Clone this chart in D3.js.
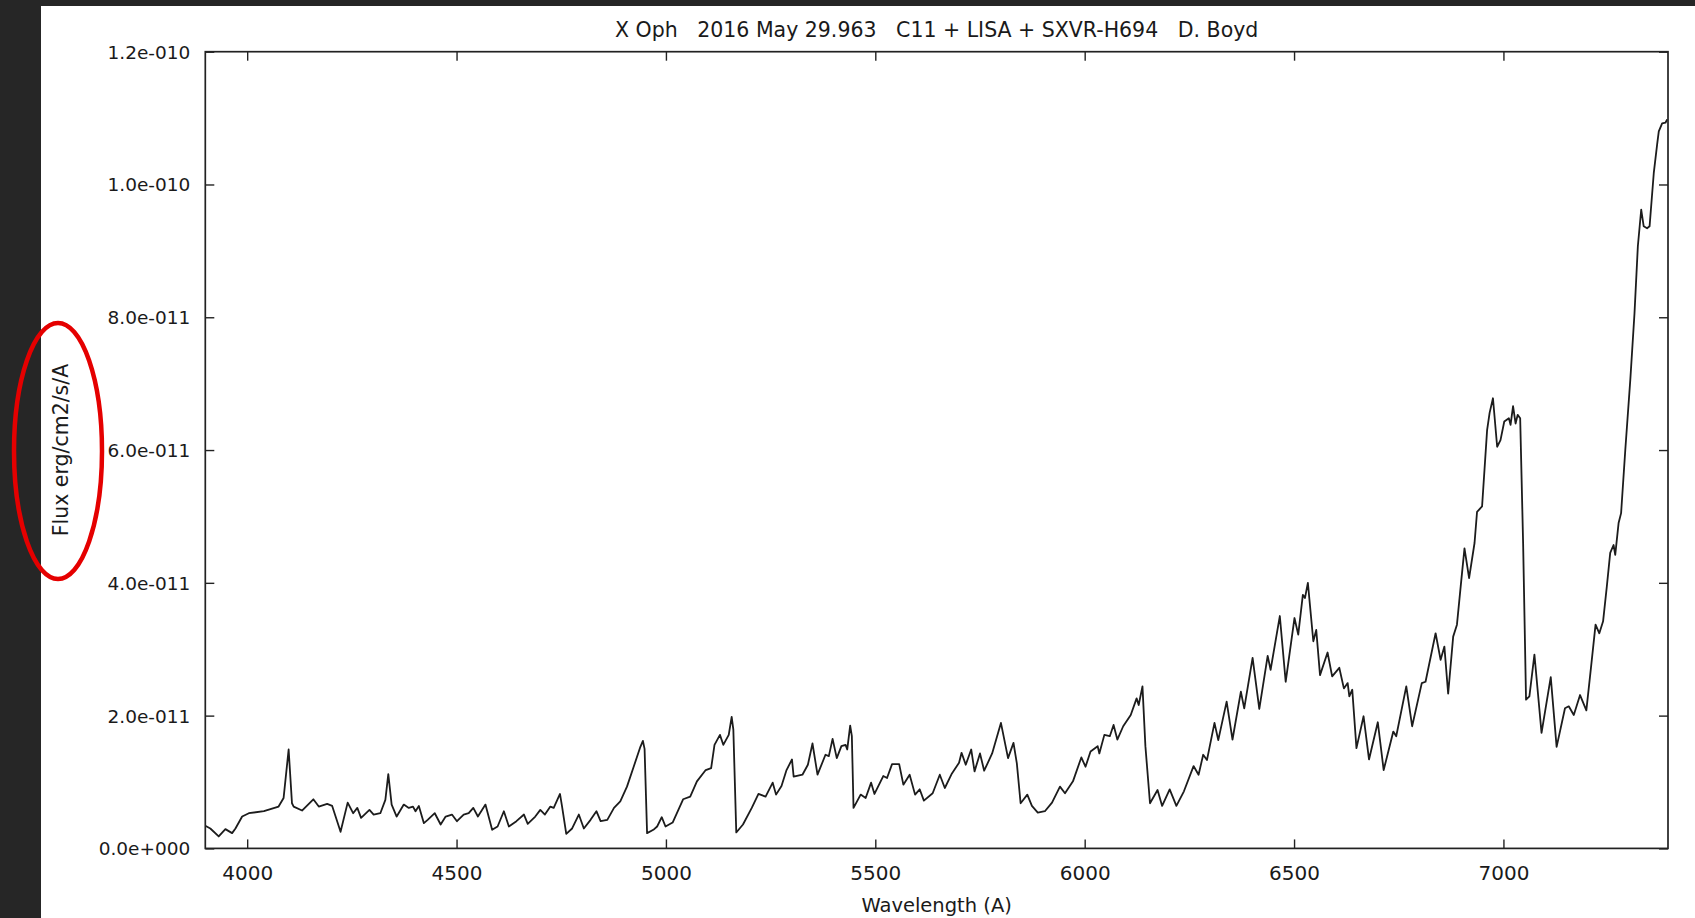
<!DOCTYPE html>
<html>
<head>
<meta charset="utf-8">
<script src="https://cdn.jsdelivr.net/npm/d3@7"></script>
<style>
    body { margin: 0; background: #262626; overflow: hidden; }
    text { font-family: "DejaVu Sans", Verdana, sans-serif; fill: #1a1a1a; }
</style>
</head>
<body>
<div id="chart"></div>
<script>
// spectrum, flux in units of 1e-11 erg/cm2/s/A
const wavelength = [3900, 3912, 3932, 3948, 3964, 3972, 3988, 4004, 4040, 4075, 4087, 4099, 4107, 4111, 4131, 4158, 4171, 4191, 4203, 4223,
    4240, 4253, 4263, 4272, 4292, 4302, 4318, 4330, 4337, 4345, 4357, 4374, 4386, 4396, 4402, 4410, 4422, 4431, 4448, 4462,
    4474, 4489, 4501, 4517, 4529, 4540, 4551, 4569, 4585, 4598, 4613, 4625, 4643, 4661, 4670, 4688, 4700, 4711, 4724, 4732,
    4747, 4752, 4762, 4776, 4792, 4804, 4820, 4834, 4844, 4860, 4876, 4891, 4907, 4923, 4939, 4945, 4949, 4955, 4970, 4979,
    4990, 4999, 5016, 5041, 5058, 5074, 5095, 5108, 5116, 5129, 5137, 5150, 5157, 5161, 5168, 5184, 5205, 5221, 5238, 5255,
    5263, 5276, 5288, 5301, 5305, 5326, 5339, 5350, 5362, 5381, 5389, 5398, 5408, 5419, 5429, 5433, 5440, 5444, 5448, 5465,
    5477, 5490, 5498, 5519, 5528, 5540, 5557, 5567, 5582, 5595, 5606, 5616, 5637, 5654, 5666, 5683, 5700, 5706, 5716, 5729,
    5737, 5750, 5760, 5779, 5800, 5817, 5830, 5838, 5847, 5863, 5874, 5888, 5905, 5922, 5941, 5953, 5972, 5992, 6002, 6014,
    6031, 6035, 6047, 6060, 6069, 6078, 6092, 6110, 6124, 6129, 6138, 6145, 6156, 6174, 6185, 6203, 6219, 6237, 6260, 6272,
    6283, 6292, 6310, 6319, 6339, 6353, 6373, 6381, 6401, 6417, 6437, 6444, 6466, 6480, 6501, 6510, 6521, 6526, 6533, 6546,
    6553, 6562, 6580, 6591, 6608, 6619, 6628, 6632, 6639, 6649, 6666, 6679, 6700, 6714, 6737, 6744, 6768, 6782, 6805, 6814,
    6838, 6850, 6859, 6868, 6880, 6889, 6898, 6907, 6918, 6931, 6937, 6949, 6961, 6967, 6975, 6985, 6993, 7002, 7013, 7017,
    7023, 7029, 7034, 7040, 7047, 7054, 7062, 7074, 7091, 7113, 7127, 7147, 7156, 7168, 7183, 7198, 7209, 7220, 7229, 7238,
    7247, 7255, 7263, 7267, 7275, 7281, 7291, 7303, 7313, 7321, 7329, 7335, 7343, 7349, 7359, 7367, 7371, 7379, 7387, 7391]
const flux = [0.34, 0.30, 0.18, 0.29, 0.23, 0.30, 0.48, 0.53, 0.56, 0.63, 0.76, 1.49, 0.68, 0.63, 0.57, 0.74, 0.63, 0.67, 0.64, 0.25,
    0.69, 0.53, 0.61, 0.46, 0.58, 0.51, 0.53, 0.73, 1.12, 0.66, 0.48, 0.66, 0.61, 0.63, 0.56, 0.64, 0.38, 0.43, 0.53, 0.36,
    0.48, 0.51, 0.41, 0.51, 0.53, 0.61, 0.48, 0.66, 0.28, 0.33, 0.56, 0.33, 0.41, 0.51, 0.37, 0.48, 0.58, 0.51, 0.63, 0.61,
    0.82, 0.63, 0.22, 0.30, 0.51, 0.30, 0.43, 0.56, 0.41, 0.43, 0.61, 0.71, 0.93, 1.23, 1.53, 1.62, 1.50, 0.23, 0.28, 0.33,
    0.47, 0.33, 0.39, 0.74, 0.78, 1.01, 1.18, 1.21, 1.56, 1.71, 1.56, 1.71, 1.98, 1.79, 0.24, 0.36, 0.61, 0.82, 0.78, 0.99,
    0.81, 0.94, 1.18, 1.34, 1.08, 1.11, 1.26, 1.58, 1.11, 1.41, 1.39, 1.65, 1.36, 1.54, 1.56, 1.49, 1.85, 1.69, 0.61, 0.81,
    0.76, 0.99, 0.82, 1.09, 1.06, 1.27, 1.27, 0.96, 1.11, 0.81, 0.89, 0.72, 0.83, 1.11, 0.91, 1.13, 1.29, 1.44, 1.26, 1.49,
    1.16, 1.43, 1.17, 1.43, 1.89, 1.36, 1.59, 1.28, 0.68, 0.81, 0.64, 0.54, 0.56, 0.69, 0.93, 0.83, 1.01, 1.37, 1.23, 1.46,
    1.54, 1.43, 1.71, 1.69, 1.86, 1.64, 1.84, 2.01, 2.26, 2.16, 2.44, 1.54, 0.68, 0.88, 0.64, 0.89, 0.64, 0.86, 1.24, 1.11,
    1.41, 1.33, 1.89, 1.63, 2.21, 1.64, 2.36, 2.11, 2.87, 2.10, 2.90, 2.69, 3.50, 2.51, 3.47, 3.22, 3.82, 3.77, 4.00, 3.12,
    3.29, 2.61, 2.95, 2.59, 2.72, 2.41, 2.49, 2.29, 2.39, 1.51, 1.99, 1.34, 1.90, 1.18, 1.76, 1.69, 2.44, 1.84, 2.49, 2.51,
    3.24, 2.84, 3.04, 2.33, 3.19, 3.37, 3.95, 4.52, 4.07, 4.60, 5.07, 5.15, 6.30, 6.56, 6.78, 6.05, 6.15, 6.43, 6.48, 6.38,
    6.66, 6.40, 6.53, 6.48, 4.60, 2.24, 2.29, 2.92, 1.74, 2.58, 1.53, 2.11, 2.14, 2.01, 2.31, 2.08, 2.72, 3.37, 3.24, 3.42,
    3.95, 4.45, 4.57, 4.42, 4.90, 5.05, 6.00, 7.06, 8.06, 9.07, 9.62, 9.37, 9.34, 9.37, 10.17, 10.60, 10.80, 10.92, 10.93, 10.98]

const xTicks = [4000, 4500, 5000, 5500, 6000, 6500, 7000]
const yTicks = [0, 2e-11, 4e-11, 6e-11, 8e-11, 1e-10, 1.2e-10]
const xDomain = [3900, 7393]
const yDomain = [0, 1.2e-10]

const titleText = "X Oph   2016 May 29.963   C11 + LISA + SXVR-H694   D. Boyd"
const xLabel = "Wavelength (A)"
const yLabel = "Flux erg/cm2/s/A"

let width = 1695, height = 918
let margin = {top: 51.7, right: 27, bottom: 69.6, left: 205.3}

var svg = d3.select("#chart").append("svg")
    .attr("width", width)
    .attr("height", height)

// white page area, dark strip on the left and top
svg.append("rect").attr("x", 41).attr("y", 6)
    .attr("width", width - 41).attr("height", height - 6).attr("fill", "#ffffff")

var x = d3.scaleLinear().domain(xDomain).range([margin.left, width - margin.right])
var y = d3.scaleLinear().domain(yDomain).range([height - margin.bottom, margin.top])

// y labels look like 1.2e-010
const sciFormat = function (v) {
    let s = d3.format(".1e")(v)
    let parts = s.split("e")
    let sign = parts[1][0]
    let exp = parts[1].slice(1).padStart(3, "0")
    return parts[0] + "e" + sign + exp
}

// ticks inward on all four sides
svg.append("g")
    .attr("transform", "translate(0," + y.range()[0] + ")")
    .call(d3.axisBottom(x).tickValues(xTicks).tickSizeInner(-9).tickSizeOuter(0).tickFormat(d3.format("d")))
    .call(g => g.select(".domain").remove())
    .call(g => g.selectAll("text").style("font-size", "20px").attr("dy", 0).attr("y", 32))

svg.append("g")
    .attr("transform", "translate(0," + margin.top + ")")
    .call(d3.axisTop(x).tickValues(xTicks).tickSizeInner(-9).tickSizeOuter(0).tickFormat(""))
    .call(g => g.select(".domain").remove())

svg.append("g")
    .attr("transform", "translate(" + margin.left + ",0)")
    .call(d3.axisLeft(y).tickValues(yTicks).tickSizeInner(-9).tickSizeOuter(0).tickPadding(15).tickFormat(sciFormat))
    .call(g => g.select(".domain").remove())
    .call(g => g.selectAll("text").style("font-size", "18.5px").attr("dy", "0.35em"))

svg.append("g")
    .attr("transform", "translate(" + x.range()[1] + ",0)")
    .call(d3.axisRight(y).tickValues(yTicks).tickSizeInner(-9).tickSizeOuter(0).tickFormat(""))
    .call(g => g.select(".domain").remove())

svg.selectAll(".tick line").attr("stroke", "#222").attr("stroke-width", 1.4)
svg.selectAll(".tick text").attr("fill", "#1a1a1a").style("font-family", "DejaVu Sans, Verdana, sans-serif")

// spectrum
let points = wavelength.map((w, i) => ({w: w, f: flux[i] * 1e-11}))
var line = d3.line()
    .x(d => x(d.w))
    .y(d => y(d.f))

svg.append("path")
    .datum(points)
    .attr("d", line)
    .attr("fill", "none")
    .attr("stroke", "#1c1c1c")
    .attr("stroke-width", 1.8)
    .attr("stroke-linejoin", "round")

// frame
svg.append("rect")
    .attr("x", x.range()[0]).attr("y", y.range()[1])
    .attr("width", x.range()[1] - x.range()[0])
    .attr("height", y.range()[0] - y.range()[1])
    .attr("fill", "none").attr("stroke", "#222").attr("stroke-width", 1.7)

let midX = (x.range()[0] + x.range()[1]) / 2
let midY = (y.range()[0] + y.range()[1]) / 2

svg.append("text")
    .attr("x", midX).attr("y", 37)
    .attr("text-anchor", "middle")
    .style("font-size", "20.5px")
    .style("white-space", "pre")
    .text(titleText)

svg.append("text")
    .attr("x", midX).attr("y", 912)
    .attr("text-anchor", "middle")
    .style("font-size", "19.5px")
    .text(xLabel)

svg.append("text")
    .attr("transform", "translate(68," + midY + ") rotate(-90)")
    .attr("text-anchor", "middle")
    .style("font-size", "20.5px")
    .text(yLabel)

// red ring drawn over the axis title
svg.append("ellipse")
    .attr("cx", 58).attr("cy", 451)
    .attr("rx", 44).attr("ry", 128)
    .attr("fill", "none")
    .attr("stroke", "#e50000")
    .attr("stroke-width", 4.5)
</script>
</body>
</html>
